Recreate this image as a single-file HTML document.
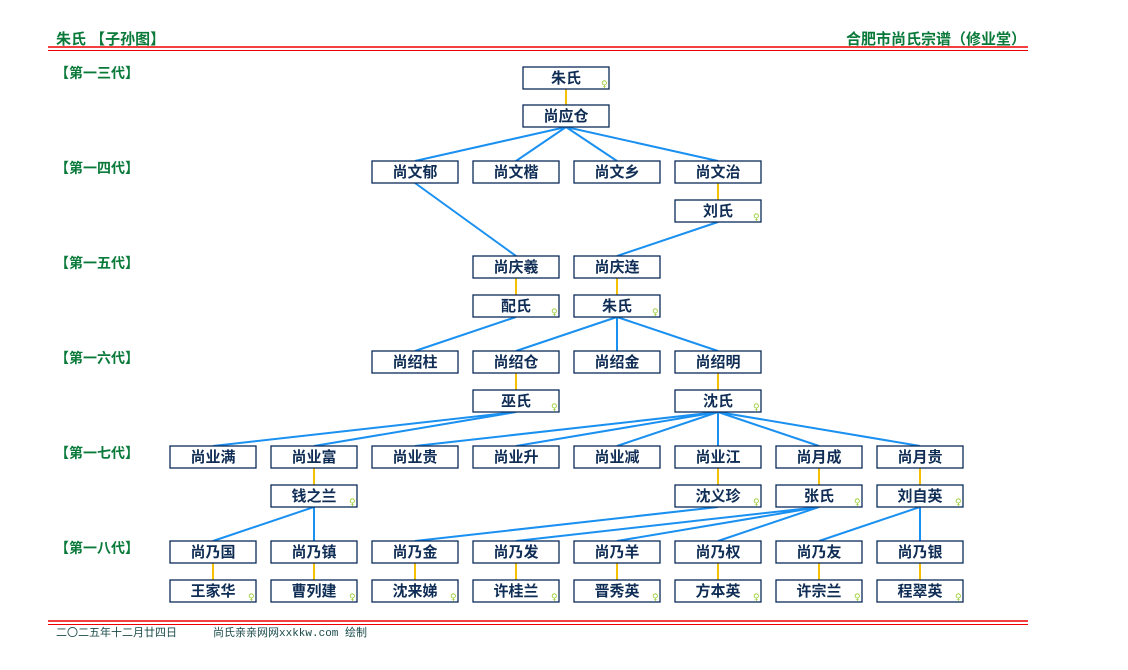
<!DOCTYPE html>
<html><head><meta charset="utf-8"><style>
html,body{margin:0;padding:0;background:#fff;}
svg{display:block;}
.t{font-family:"Liberation Sans","Noto Sans CJK SC",sans-serif;font-weight:bold;font-size:15px;fill:#0f2d55;text-anchor:middle;}
.g{font-family:"Liberation Sans","Noto Sans CJK SC",sans-serif;font-weight:bold;font-size:14px;fill:#0a7a3a;}
.f{font-family:"Liberation Mono","Noto Sans CJK SC",monospace;font-size:11px;fill:#1a4a4a;}
.b{fill:#fff;stroke:#0a2a5a;stroke-width:1.3;}
.l{stroke:#1a90f0;stroke-width:2;fill:none;}
.y{stroke:#f5c000;stroke-width:2;}
.s{font-family:"DejaVu Sans",sans-serif;font-size:9px;fill:#9c3;}
</style></head><body>
<svg width="1128" height="670" xmlns="http://www.w3.org/2000/svg">
<text class="g" x="56" y="44" style="font-size:15px">朱氏 【子孙图】</text>
<text class="g" x="1026" y="44" text-anchor="end" style="font-size:15px">合肥市尚氏宗谱（修业堂）</text>
<line x1="48" y1="47" x2="1028" y2="47" stroke="#e00" stroke-width="1.5"/>
<line x1="48" y1="50.5" x2="1028" y2="50.5" stroke="#e00" stroke-width="1"/>
<line x1="48" y1="621" x2="1028" y2="621" stroke="#e00" stroke-width="1.5"/>
<line x1="48" y1="624.5" x2="1028" y2="624.5" stroke="#e00" stroke-width="1"/>
<text class="f" x="56" y="636">二〇二五年十二月廿四日</text>
<text class="f" x="213" y="636">尚氏亲亲网网xxkkw.com 绘制</text>
<text class="g" x="55" y="78">【第一三代】</text>
<text class="g" x="55" y="173">【第一四代】</text>
<text class="g" x="55" y="268">【第一五代】</text>
<text class="g" x="55" y="363">【第一六代】</text>
<text class="g" x="55" y="458">【第一七代】</text>
<text class="g" x="55" y="553">【第一八代】</text>
<g class="y">
<line x1="566" y1="89" x2="566" y2="105"/>
<line x1="718" y1="183" x2="718" y2="200"/>
<line x1="516" y1="278" x2="516" y2="295"/>
<line x1="617" y1="278" x2="617" y2="295"/>
<line x1="516" y1="373" x2="516" y2="390"/>
<line x1="718" y1="373" x2="718" y2="390"/>
<line x1="314" y1="468" x2="314" y2="485"/>
<line x1="718" y1="468" x2="718" y2="485"/>
<line x1="819" y1="468" x2="819" y2="485"/>
<line x1="920" y1="468" x2="920" y2="485"/>
<line x1="213" y1="563" x2="213" y2="580"/>
<line x1="314" y1="563" x2="314" y2="580"/>
<line x1="415" y1="563" x2="415" y2="580"/>
<line x1="516" y1="563" x2="516" y2="580"/>
<line x1="617" y1="563" x2="617" y2="580"/>
<line x1="718" y1="563" x2="718" y2="580"/>
<line x1="819" y1="563" x2="819" y2="580"/>
<line x1="920" y1="563" x2="920" y2="580"/>
</g>
<g class="l">
<path d="M566 127L415 161M566 127L516 161M566 127L617 161M566 127L718 161"/>
<path d="M415 183L516 256M718 222L617 256"/>
<path d="M516 317L415 351M617 317L516 351M617 317L617 351M617 317L718 351"/>
<path d="M516 412L213 446M516 412L314 446"/>
<path d="M718 412L415 446M718 412L516 446M718 412L617 446M718 412L718 446M718 412L819 446M718 412L920 446"/>
<path d="M314 507L213 541M314 507L314 541"/>
<path d="M718 507L415 541M819 507L516 541M819 507L617 541M819 507L718 541"/>
<path d="M920 507L819 541M920 507L920 541"/>
</g>
<g>
<rect class="b" x="523" y="67" width="86" height="22"/><text class="t" x="566" y="83">朱氏</text><text class="s" x="601" y="87">♀</text>
<rect class="b" x="523" y="105" width="86" height="22"/><text class="t" x="566" y="121">尚应仓</text>

<rect class="b" x="372" y="161" width="86" height="22"/><text class="t" x="415" y="177">尚文郁</text>
<rect class="b" x="473" y="161" width="86" height="22"/><text class="t" x="516" y="177">尚文楷</text>
<rect class="b" x="574" y="161" width="86" height="22"/><text class="t" x="617" y="177">尚文乡</text>
<rect class="b" x="675" y="161" width="86" height="22"/><text class="t" x="718" y="177">尚文治</text>
<rect class="b" x="675" y="200" width="86" height="22"/><text class="t" x="718" y="216">刘氏</text><text class="s" x="753" y="220">♀</text>

<rect class="b" x="473" y="256" width="86" height="22"/><text class="t" x="516" y="272">尚庆羲</text>
<rect class="b" x="574" y="256" width="86" height="22"/><text class="t" x="617" y="272">尚庆连</text>
<rect class="b" x="473" y="295" width="86" height="22"/><text class="t" x="516" y="311">配氏</text><text class="s" x="551" y="315">♀</text>
<rect class="b" x="574" y="295" width="86" height="22"/><text class="t" x="617" y="311">朱氏</text><text class="s" x="652" y="315">♀</text>

<rect class="b" x="372" y="351" width="86" height="22"/><text class="t" x="415" y="367">尚绍柱</text>
<rect class="b" x="473" y="351" width="86" height="22"/><text class="t" x="516" y="367">尚绍仓</text>
<rect class="b" x="574" y="351" width="86" height="22"/><text class="t" x="617" y="367">尚绍金</text>
<rect class="b" x="675" y="351" width="86" height="22"/><text class="t" x="718" y="367">尚绍明</text>
<rect class="b" x="473" y="390" width="86" height="22"/><text class="t" x="516" y="406">巫氏</text><text class="s" x="551" y="410">♀</text>
<rect class="b" x="675" y="390" width="86" height="22"/><text class="t" x="718" y="406">沈氏</text><text class="s" x="753" y="410">♀</text>

<rect class="b" x="170" y="446" width="86" height="22"/><text class="t" x="213" y="462">尚业满</text>
<rect class="b" x="271" y="446" width="86" height="22"/><text class="t" x="314" y="462">尚业富</text>
<rect class="b" x="372" y="446" width="86" height="22"/><text class="t" x="415" y="462">尚业贵</text>
<rect class="b" x="473" y="446" width="86" height="22"/><text class="t" x="516" y="462">尚业升</text>
<rect class="b" x="574" y="446" width="86" height="22"/><text class="t" x="617" y="462">尚业减</text>
<rect class="b" x="675" y="446" width="86" height="22"/><text class="t" x="718" y="462">尚业江</text>
<rect class="b" x="776" y="446" width="86" height="22"/><text class="t" x="819" y="462">尚月成</text>
<rect class="b" x="877" y="446" width="86" height="22"/><text class="t" x="920" y="462">尚月贵</text>
<rect class="b" x="271" y="485" width="86" height="22"/><text class="t" x="314" y="501">钱之兰</text><text class="s" x="349" y="505">♀</text>
<rect class="b" x="675" y="485" width="86" height="22"/><text class="t" x="718" y="501">沈义珍</text><text class="s" x="753" y="505">♀</text>
<rect class="b" x="776" y="485" width="86" height="22"/><text class="t" x="819" y="501">张氏</text><text class="s" x="854" y="505">♀</text>
<rect class="b" x="877" y="485" width="86" height="22"/><text class="t" x="920" y="501">刘自英</text><text class="s" x="955" y="505">♀</text>

<rect class="b" x="170" y="541" width="86" height="22"/><text class="t" x="213" y="557">尚乃国</text>
<rect class="b" x="271" y="541" width="86" height="22"/><text class="t" x="314" y="557">尚乃镇</text>
<rect class="b" x="372" y="541" width="86" height="22"/><text class="t" x="415" y="557">尚乃金</text>
<rect class="b" x="473" y="541" width="86" height="22"/><text class="t" x="516" y="557">尚乃发</text>
<rect class="b" x="574" y="541" width="86" height="22"/><text class="t" x="617" y="557">尚乃羊</text>
<rect class="b" x="675" y="541" width="86" height="22"/><text class="t" x="718" y="557">尚乃权</text>
<rect class="b" x="776" y="541" width="86" height="22"/><text class="t" x="819" y="557">尚乃友</text>
<rect class="b" x="877" y="541" width="86" height="22"/><text class="t" x="920" y="557">尚乃银</text>
<rect class="b" x="170" y="580" width="86" height="22"/><text class="t" x="213" y="596">王家华</text><text class="s" x="248" y="600">♀</text>
<rect class="b" x="271" y="580" width="86" height="22"/><text class="t" x="314" y="596">曹列建</text><text class="s" x="349" y="600">♀</text>
<rect class="b" x="372" y="580" width="86" height="22"/><text class="t" x="415" y="596">沈来娣</text><text class="s" x="450" y="600">♀</text>
<rect class="b" x="473" y="580" width="86" height="22"/><text class="t" x="516" y="596">许桂兰</text><text class="s" x="551" y="600">♀</text>
<rect class="b" x="574" y="580" width="86" height="22"/><text class="t" x="617" y="596">晋秀英</text><text class="s" x="652" y="600">♀</text>
<rect class="b" x="675" y="580" width="86" height="22"/><text class="t" x="718" y="596">方本英</text><text class="s" x="753" y="600">♀</text>
<rect class="b" x="776" y="580" width="86" height="22"/><text class="t" x="819" y="596">许宗兰</text><text class="s" x="854" y="600">♀</text>
<rect class="b" x="877" y="580" width="86" height="22"/><text class="t" x="920" y="596">程翠英</text><text class="s" x="955" y="600">♀</text>
</g>
</svg>
</body></html>
